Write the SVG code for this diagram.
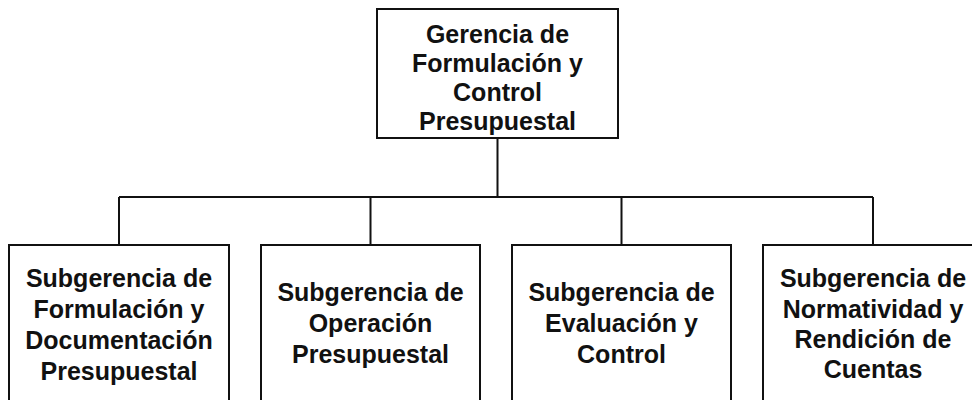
<svg xmlns="http://www.w3.org/2000/svg" width="972" height="400" viewBox="0 0 972 400">
<style>
.box{fill:#fff;stroke:#111;stroke-width:2}
.lbl{font-family:"Liberation Sans",Arial,sans-serif;font-weight:bold;font-size:25px;fill:#111;text-anchor:middle}
.con{fill:none;stroke:#111;stroke-width:2}
</style>
<rect width="972" height="400" fill="#fff"/>
<g id="connectors">
<path class="con" d="M497.5 138V197M119 197H873M119 197V245M370.5 197V245M621.5 197V245M873 197V245"/>
</g>
<g id="n0">
<rect class="box" x="377" y="9" width="241" height="129"/>
<text class="lbl" x="497.5"><tspan x="497.5" y="43">Gerencia de</tspan><tspan x="497.5" y="72">Formulación y</tspan><tspan x="497.5" y="101">Control</tspan><tspan x="497.5" y="130">Presupuestal</tspan></text>
</g>
<g id="n1">
<rect class="box" x="9" y="245" width="220" height="170"/>
<text class="lbl"><tspan x="119" y="287">Subgerencia de</tspan><tspan x="119" y="318">Formulación y</tspan><tspan x="119" y="349">Documentación</tspan><tspan x="119" y="380">Presupuestal</tspan></text>
</g>
<g id="n2">
<rect class="box" x="261" y="245" width="219" height="170"/>
<text class="lbl"><tspan x="370.5" y="301">Subgerencia de</tspan><tspan x="370.5" y="332">Operación</tspan><tspan x="370.5" y="363">Presupuestal</tspan></text>
</g>
<g id="n3">
<rect class="box" x="512" y="245" width="219" height="170"/>
<text class="lbl"><tspan x="621.5" y="301">Subgerencia de</tspan><tspan x="621.5" y="332">Evaluación y</tspan><tspan x="621.5" y="363">Control</tspan></text>
</g>
<g id="n4">
<rect class="box" x="763" y="245" width="220" height="170"/>
<text class="lbl"><tspan x="873" y="287">Subgerencia de</tspan><tspan x="873" y="318">Normatividad y</tspan><tspan x="873" y="348">Rendición de</tspan><tspan x="873" y="378">Cuentas</tspan></text>
</g>
</svg>
